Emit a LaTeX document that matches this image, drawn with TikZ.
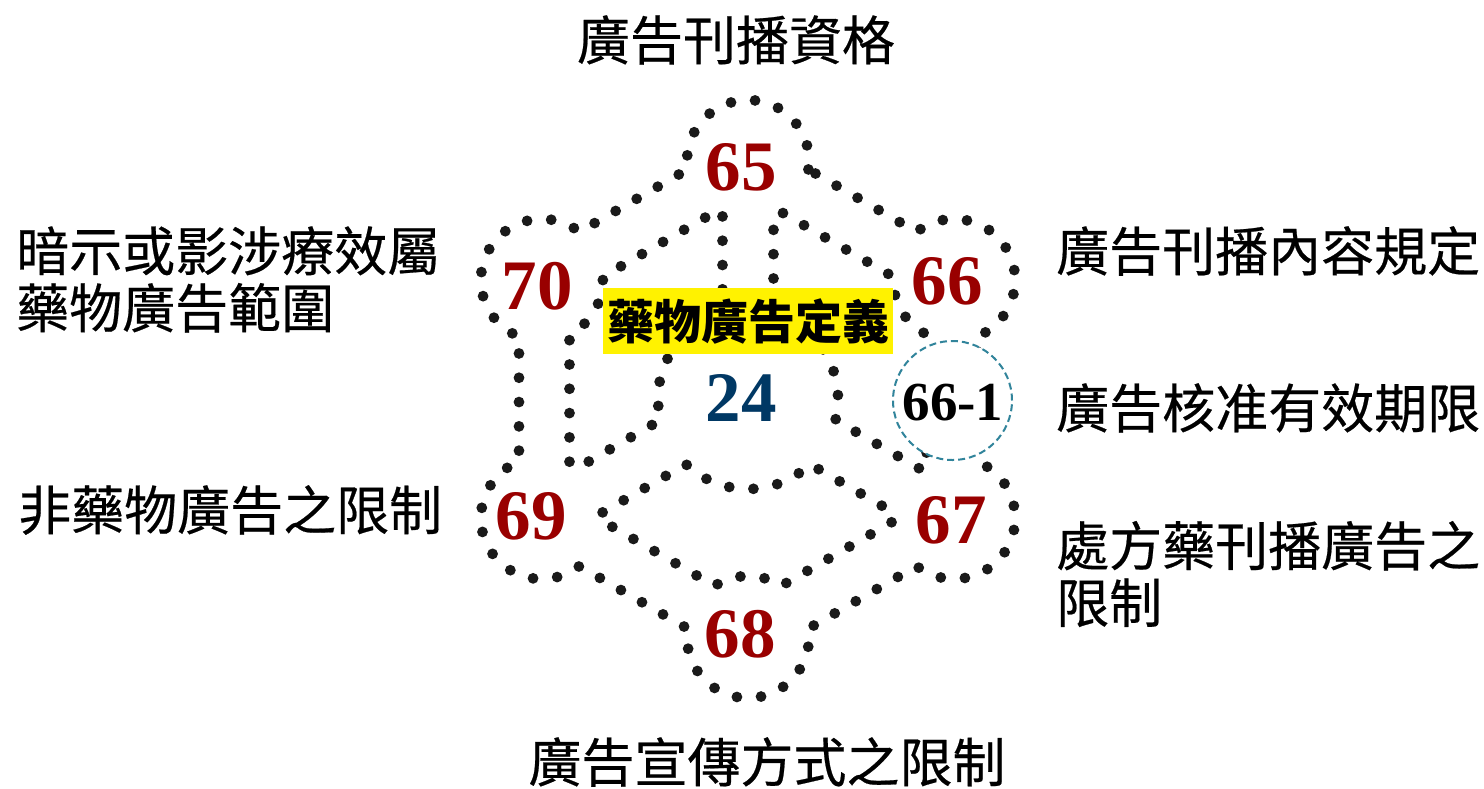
\documentclass[tikz,border=0pt]{standalone}
\usepackage{fontspec}
\setmainfont{Liberation Serif}
\newfontfamily\cjk[FakeBold=0.4]{Noto Sans CJK TC}
\newfontfamily\cjkb{Noto Sans CJK TC}
\definecolor{dotc}{HTML}{1A1A1A}
\definecolor{numred}{HTML}{990000}
\definecolor{numblue}{RGB}{0,56,100}
\definecolor{teal}{RGB}{49,132,155}
\tikzset{
  dotline/.style={draw=dotc, line width=10.8pt, line cap=round, dash pattern=on 0pt off 24.3pt},
  sidetext/.style={font=\cjk\fontsize{53}{57}\selectfont, inner sep=0pt, align=left},
  numlbl/.style={font=\bfseries\fontsize{71}{71}\selectfont, text=numred, inner sep=0pt},
}
\begin{document}
\begin{tikzpicture}[x=1pt,y=1pt]
\useasboundingbox[fill=white] (0,0) rectangle (1484,-788);

% ---- dotted band shape ----
\begin{scope}[shift={(748,-399)}]
  % outer boundary
  \draw[dotline] ([shift={(90:238)}]-7.95:61) arc[start angle=-7.95,end angle=187.95,radius=61]
    -- ([shift={(150:238)}]52.05:61) arc[start angle=52.05,end angle=247.95,radius=61]
    -- ([shift={(210:238)}]112.05:61) arc[start angle=112.05,end angle=307.95,radius=61]
    -- ([shift={(270:238)}]172.05:61) arc[start angle=172.05,end angle=367.95,radius=61]
    -- ([shift={(330:238)}]232.05:61) arc[start angle=232.05,end angle=427.95,radius=61]
    -- ([shift={(30:238)}]292.05:61) arc[start angle=292.05,end angle=487.95,radius=61]
    -- cycle;
  % three inner holes (UL, lens, UR)
  \foreach \rot/\nm in {0/holeUL,120/holeB,-120/holeUR}{
    \begin{scope}[rotate=\rot]
      \coordinate (\nm) at (-100,60);
      \draw[dotline] (-25.5,182.59) -- (-25.5,86.31)
        arc[start angle=106.46,end angle=193.54,radius=90]
        -- (-170.88,-69.22)
        arc[start angle=54.72,end angle=63.1,radius=61]
        -- (-178.5,64.6)
        arc[start angle=-63.1,end angle=3.1,radius=61]
        -- (-33.31,186.9)
        arc[start angle=236.9,end angle=245.29,radius=61]
        -- cycle;
    \end{scope}
  }
\end{scope}

% ---- centre label and numbers ----
\node[fill=yellow, minimum width=290pt, minimum height=66pt, inner sep=0pt,
      font=\cjkb\bfseries\fontsize{47}{47}\selectfont] (def) at (748,-321) {藥物廣告定義};
\node[font=\bfseries\fontsize{71}{71}\selectfont, text=numblue, inner sep=0pt] (n24) at (741,-398) {24};

\node[numlbl] (n65) at (741,-167) {65};
\node[numlbl] (n66) at (947,-281) {66};
\node[numlbl] (n67) at (951,-520) {67};
\node[numlbl] (n68) at (740,-634) {68};
\node[numlbl] (n69) at (531,-516) {69};
\node[numlbl] (n70) at (537,-286) {70};

\node[circle, draw=teal, line width=2pt, dash pattern=on 7pt off 4pt, fill=white,
      minimum size=119pt, inner sep=0pt] (c661) at (952.5,-400.5) {};
\node[font=\bfseries\fontsize{55}{55}\selectfont, inner sep=0pt] (n661) at (953,-403) {66-1};

% ---- side texts ----
\node[sidetext] (t65) at (736,-40) {廣告刊播資格};
\node[sidetext, anchor=west] (t70) at (16,-279.5) {暗示或影涉療效屬\\藥物廣告範圍};
\node[sidetext, anchor=west] (t66) at (1056,-251) {廣告刊播內容規定};
\node[sidetext, anchor=west] (t661) at (1056,-408) {廣告核准有效期限};
\node[sidetext, anchor=west] (t69) at (18,-510) {非藥物廣告之限制};
\node[sidetext, anchor=west] (t67) at (1056,-574) {處方藥刊播廣告之\\限制};
\node[sidetext] (t68) at (767,-762) {廣告宣傳方式之限制};
\end{tikzpicture}
\end{document}
